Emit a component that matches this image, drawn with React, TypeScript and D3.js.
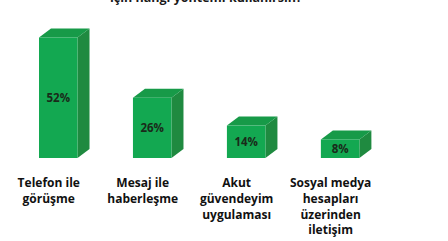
import React, { useEffect, useRef } from 'react';
import * as d3 from 'd3';

const categories = ['telefon', 'mesaj', 'akut', 'sosyal'];
const values = [52, 26, 14, 8];
const categoryLabels = [
  ['Telefon ile', 'görüşme'],
  ['Mesaj ile', 'haberleşme'],
  ['Akut', 'güvendeyim', 'uygulaması'],
  ['Sosyal medya', 'hesapları', 'üzerinden', 'iletişim'],
];
const titleText = 'için hangi yöntemi kullanırsın?';

const W = 448;
const H = 241;

const App = () => {
  const svgRef = useRef<SVGSVGElement>(null);

  useEffect(() => {
    const svg = d3.select(svgRef.current);
    svg.selectAll('*').remove();

    const font = "'Open Sans', 'Liberation Sans', sans-serif";
    const dx = 12;
    const dy = 9;

    const x = d3
      .scaleBand()
      .domain(categories)
      .range([39, 359.4])
      .paddingInner(0.59)
      .paddingOuter(0);

    const y = d3.scaleLinear().domain([0, 52]).range([158, 37.5]);

    svg
      .append('rect')
      .attr('width', W)
      .attr('height', H)
      .attr('fill', '#ffffff');

    // title, mostly cut off at the top
    svg
      .append('text')
      .attr('x', 206)
      .attr('y', 2)
      .attr('text-anchor', 'middle')
      .attr('font-family', font)
      .attr('font-weight', 'bold')
      .attr('font-size', 12.5)
      .attr('fill', '#1a1a1a')
      .text(titleText);

    const bars = svg
      .selectAll('.bar')
      .data(values)
      .enter()
      .append('g')
      .attr('class', 'bar');

    // side
    bars
      .append('path')
      .attr('d', (d, i) => {
        const x1 = x(categories[i])! + x.bandwidth();
        const y0 = y(d);
        const yb = y(0);
        return `M${x1},${y0} L${x1 + dx},${y0 - dy} L${x1 + dx},${yb - dy} L${x1},${yb} Z`;
      })
      .attr('fill', '#1f8a40');

    // top
    bars
      .append('path')
      .attr('d', (d, i) => {
        const x0 = x(categories[i])!;
        const x1 = x0 + x.bandwidth();
        const y0 = y(d);
        return `M${x0},${y0} L${x0 + dx},${y0 - dy} L${x1 + dx},${y0 - dy} L${x1},${y0} Z`;
      })
      .attr('fill', '#179a48');

    // front
    bars
      .append('rect')
      .attr('x', (d, i) => x(categories[i])!)
      .attr('y', (d) => y(d))
      .attr('width', x.bandwidth())
      .attr('height', (d) => y(0) - y(d))
      .attr('fill', '#13a851');

    bars
      .append('text')
      .attr('x', (d, i) => x(categories[i])! + x.bandwidth() / 2)
      .attr('y', (d) => (y(d) + y(0)) / 2 + 4.5)
      .attr('text-anchor', 'middle')
      .attr('font-family', font)
      .attr('font-weight', 'bold')
      .attr('font-size', 11.5)
      .attr('fill', '#1a2a1a')
      .text((d) => `${d}%`);

    // category labels
    const labels = svg
      .selectAll('.cat')
      .data(categoryLabels)
      .enter()
      .append('text')
      .attr('class', 'cat')
      .attr('text-anchor', 'middle')
      .attr('font-family', font)
      .attr('font-weight', 'bold')
      .attr('font-size', 12)
      .attr('fill', '#111111');

    labels
      .selectAll('tspan')
      .data((d, i) => d.map((line) => ({ line, i })))
      .enter()
      .append('tspan')
      .attr('x', (d) => x(categories[d.i])! + x.bandwidth() / 2 - 9.5)
      .attr('y', (d, j) => 187 + j * 15.8)
      .text((d) => d.line);
  }, []);

  return (
    <svg
      ref={svgRef}
      width={W}
      height={H}
      style={{ position: 'absolute', left: 0, top: 0 }}
    ></svg>
  );
};

export default App;
